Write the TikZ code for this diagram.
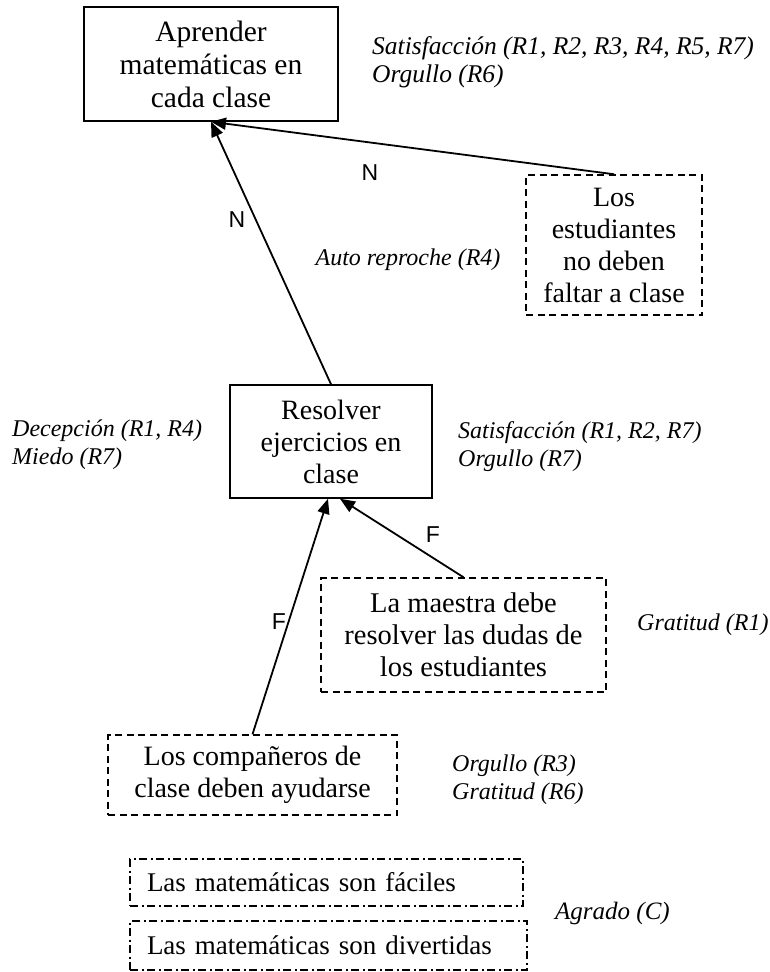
\documentclass[tikz,border=0pt]{standalone}
\usepackage{fontspec}
\setmainfont{Liberation Serif}
\newfontfamily\tagfont{Liberation Sans}
\usetikzlibrary{arrows.meta}

\begin{document}
\begin{tikzpicture}[x=1pt,y=-1pt,
  box/.style={draw, line width=1.5pt, align=center, inner sep=0pt,
    font=\fontsize{28}{32}\selectfont},
  solidbox/.style={box},
  dashbox/.style={box, dash pattern=on 7pt off 4.5pt},
  dotdashbox/.style={box, line width=1.2pt, dash pattern=on 8pt off 3.5pt on 2pt off 3.5pt,
    align=left, inner xsep=17pt, font=\fontsize{27}{32}\selectfont},
  emo/.style={font=\fontsize{24}{28}\selectfont\itshape, align=left, inner sep=0pt, anchor=west},
  emoc/.style={emo, anchor=center},
  lnk/.style={line width=1.8pt, -{Triangle[length=15pt,width=12pt]}},
  tag/.style={font=\tagfont\fontsize{23}{26}\selectfont, inner sep=0pt}
]
\useasboundingbox (0,0) rectangle (770,972);

% goals and norms
\node[solidbox, minimum width=254pt, minimum height=114pt,
  font=\fontsize{29.5}{33}\selectfont] (goal) at (211,64)
  {Aprender\\matemáticas en\\cada clase};
\node[dashbox, minimum width=176pt, minimum height=140pt] (stud) at (614,245)
  {Los\\estudiantes\\no deben\\faltar a clase};
\node[solidbox, minimum width=202pt, minimum height=113pt] (res) at (331,441.5)
  {Resolver\\ejercicios en\\clase};
\node[dashbox, minimum width=285pt, minimum height=114pt,
  font=\fontsize{28.5}{32}\selectfont] (teach) at (463.5,635)
  {La maestra debe\\resolver las dudas de\\los estudiantes};
\node[dashbox, minimum width=289pt, minimum height=80pt] (comp) at (252.5,775)
  {Los compañeros de\\clase deben ayudarse};

% beliefs
\node[dotdashbox, text width=359pt, minimum height=47pt] (easy) at (326.5,882.5)
  {Las matemáticas son fáciles};
\node[dotdashbox, text width=363pt, minimum height=49pt] (fun) at (328.5,945.5)
  {Las matemáticas son divertidas};

% links between goals
\draw[lnk] (res.north) -- (goal.south);
\draw[lnk] (stud.north) -- (goal.south);
\draw[lnk] (comp.north) -- ([xshift=-3pt]res.south);
\draw[lnk] (teach.north) -- ([xshift=9pt]res.south);

% link types
\node[tag] (n1) at (370,173) {N};
\node[tag] (n2) at (237,220) {N};
\node[tag] (f1) at (433,535) {F};
\node[tag] (f2) at (279,622) {F};

% emotions
\node[emo, font=\fontsize{25.5}{28}\selectfont\itshape] (e1) at (372,62)
  {Satisfacción (R1, R2, R3, R4, R5, R7)\\Orgullo (R6)};
\node[emoc] (e2) at (408,260) {Auto reproche (R4)};
\node[emo] (e3) at (12,445) {Decepción (R1, R4)\\Miedo (R7)};
\node[emo] (e4) at (458,447) {Satisfacción (R1, R2, R7)\\Orgullo (R7)};
\node[emo] (e5) at (637,625) {Gratitud (R1)};
\node[emo] (e6) at (452,780) {Orgullo (R3)\\Gratitud (R6)};
\node[emo, font=\fontsize{25}{28}\selectfont\itshape] (e7) at (555,913) {Agrado (C)};
\end{tikzpicture}
\end{document}
